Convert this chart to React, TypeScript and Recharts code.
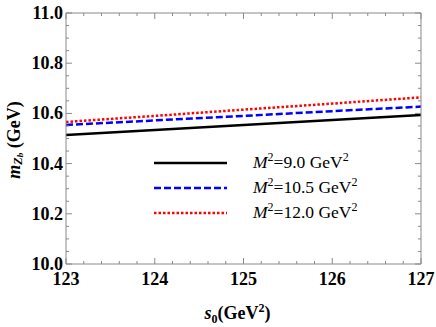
import { Line, LineChart, XAxis, YAxis } from "recharts";

const s0Values = [123, 124, 125, 126, 127];
const massM9 = [10.514, 10.534, 10.554, 10.574, 10.594];
const massM105 = [10.554, 10.572, 10.59, 10.609, 10.627];
const massM12 = [10.566, 10.59, 10.615, 10.639, 10.664];
const legendLabels = ["9.0", "10.5", "12.0"];

const data = s0Values.map((s, i) => ({ s0: s, m9: massM9[i], m105: massM105[i], m12: massM12[i] }));

const series = [
  { key: "m9", color: "#000000", dash: undefined, label: legendLabels[0] },
  { key: "m105", color: "#0000ff", dash: "7 3", label: legendLabels[1] },
  { key: "m12", color: "#ff0000", dash: "2.5 2", label: legendLabels[2] },
];

// minor ticks every 0.2 on x, every 0.05 on y
const xTicks: number[] = [];
for (let i = 0; i <= 20; i++) xTicks.push(Number((123 + i * 0.2).toFixed(2)));
const yTicks: number[] = [];
for (let i = 0; i <= 20; i++) yTicks.push(Number((10 + i * 0.05).toFixed(2)));

const isMajorX = (v: number) => Math.abs(v - Math.round(v)) < 1e-6;
const isMajorY = (v: number) => Math.abs(v * 5 - Math.round(v * 5)) < 1e-6;

const frame = "#8a8a8a";
const serif = "Liberation Serif";
const bold = { fontFamily: serif, fontWeight: 700, fontSize: 18 };

const BottomTick = (props: any) => {
  const { x, y, payload } = props;
  const major = isMajorX(payload.value);
  return (
    <g>
      <line x1={x} x2={x} y1={y} y2={y - (major ? 6 : 3)} stroke={frame} />
      {major && (
        <text x={x} y={y + 21} textAnchor="middle" fill="#000" style={bold}>
          {payload.value}
        </text>
      )}
    </g>
  );
};

const TopTick = (props: any) => {
  const { x, y, payload } = props;
  const major = isMajorX(payload.value);
  return <line x1={x} x2={x} y1={y} y2={y + (major ? 6 : 3)} stroke={frame} />;
};

const LeftTick = (props: any) => {
  const { x, y, payload } = props;
  const major = isMajorY(payload.value);
  return (
    <g>
      <line x1={x} x2={x + (major ? 6 : 3)} y1={y} y2={y} stroke={frame} />
      {major && (
        <text x={x - 3} y={y + 6} textAnchor="end" fill="#000" style={bold}>
          {payload.value.toFixed(1)}
        </text>
      )}
    </g>
  );
};

const RightTick = (props: any) => {
  const { x, y, payload } = props;
  const major = isMajorY(payload.value);
  return <line x1={x} x2={x - (major ? 6 : 3)} y1={y} y2={y} stroke={frame} />;
};

const XLabel = (props: any) => {
  const vb = props.viewBox;
  const cx = vb.x + vb.width / 2 - 6;
  return (
    <text x={cx} y={vb.y + 55} textAnchor="middle" fill="#000" style={bold}>
      <tspan fontStyle="italic">s</tspan>
      <tspan fontSize={12} dy={4}>0</tspan>
      <tspan dy={-4}>(GeV</tspan>
      <tspan fontSize={12} dy={-7}>2</tspan>
      <tspan dy={7}>)</tspan>
    </text>
  );
};

const YLabel = () => {
  const cx = 14;
  const cy = 140;
  return (
    <text
      x={cx}
      y={cy}
      transform={`rotate(-90, ${cx}, ${cy})`}
      textAnchor="middle"
      dominantBaseline="central"
      fill="#000"
      style={bold}
    >
      <tspan fontStyle="italic">m</tspan>
      <tspan fontStyle="italic" fontSize={12} dy={4}>Z</tspan>
      <tspan fontStyle="italic" fontSize={9} dy={2}>b</tspan>
      <tspan dy={-6}> (GeV)</tspan>
    </text>
  );
};

const LegendBox = () => (
  <svg width={240} height={80} style={{ position: "absolute", left: 150, top: 150 }}>
    {series.map((s, i) => {
      const y = 13 + i * 25;
      return (
        <g key={s.key}>
          <line x1={4} x2={77} y1={y} y2={y} stroke={s.color} strokeWidth={2.5} strokeDasharray={s.dash} />
          <text x={103} y={y + 5} fill="#000" style={{ fontFamily: serif, fontSize: 17.5 }}>
            <tspan fontStyle="italic">M</tspan>
            <tspan fontSize={12} dy={-7}>2</tspan>
            <tspan dy={7}>{`=${s.label} GeV`}</tspan>
            <tspan fontSize={12} dy={-7}>2</tspan>
          </text>
        </g>
      );
    })}
  </svg>
);

export default function App() {
  return (
    <div style={{ position: "absolute", left: 0, top: 0, width: 436, height: 327, background: "#fff" }}>
      <LineChart width={436} height={327} data={data} margin={{ top: 12, right: 14, bottom: 33, left: 10 }}>
        <XAxis
          dataKey="s0"
          type="number"
          domain={[123, 127]}
          ticks={xTicks}
          interval={0}
          tickSize={0}
          tickMargin={0}
          tickLine={false}
          tick={<BottomTick />}
          axisLine={{ stroke: frame }}
          height={30}
          label={{ content: <XLabel /> }}
        />
        <XAxis
          xAxisId="top"
          dataKey="s0"
          orientation="top"
          type="number"
          domain={[123, 127]}
          ticks={xTicks}
          interval={0}
          tickSize={0}
          tickMargin={0}
          tickLine={false}
          tick={<TopTick />}
          axisLine={{ stroke: frame }}
          height={1}
        />
        <YAxis
          type="number"
          domain={[10, 11]}
          ticks={yTicks}
          interval={0}
          tickSize={0}
          tickMargin={0}
          tickLine={false}
          tick={<LeftTick />}
          axisLine={{ stroke: frame }}
          width={56}
          label={{ content: <YLabel /> }}
        />
        <YAxis
          yAxisId="right"
          orientation="right"
          type="number"
          domain={[10, 11]}
          ticks={yTicks}
          interval={0}
          tickSize={0}
          tickMargin={0}
          tickLine={false}
          tick={<RightTick />}
          axisLine={{ stroke: frame }}
          width={1}
        />
        {/* invisible line so the frame axes on top/right get drawn */}
        <Line
          dataKey="m9"
          xAxisId="top"
          yAxisId="right"
          stroke="none"
          dot={false}
          activeDot={false}
          legendType="none"
          isAnimationActive={false}
        />
        {series.map((s) => (
          <Line
            key={s.key}
            dataKey={s.key}
            type="linear"
            stroke={s.color}
            strokeWidth={2.5}
            strokeDasharray={s.dash}
            dot={false}
            activeDot={false}
            isAnimationActive={false}
          />
        ))}
      </LineChart>
      <LegendBox />
    </div>
  );
}
